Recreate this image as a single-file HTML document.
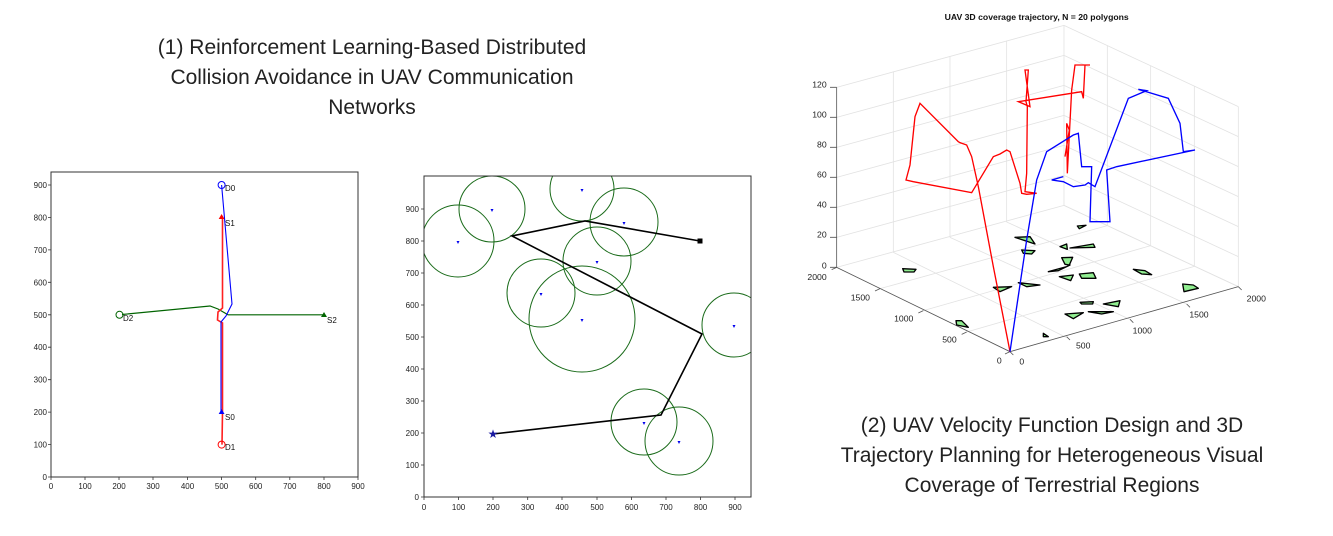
<!DOCTYPE html>
<html><head><meta charset="utf-8"><style>
html,body{margin:0;padding:0;background:#fff;}
svg{display:block;font-family:"Liberation Sans",sans-serif;}
</style></head><body>
<svg width="1333" height="536" viewBox="0 0 1333 536" xmlns="http://www.w3.org/2000/svg">
<rect width="1333" height="536" fill="#fff"/>
<!-- Titles -->
<g font-size="21" fill="#222" text-anchor="middle">
<text x="372" y="54">(1) Reinforcement Learning-Based Distributed</text>
<text x="372" y="84">Collision Avoidance in UAV Communication</text>
<text x="372" y="114">Networks</text>
<text x="1052" y="432">(2) UAV Velocity Function Design and 3D</text>
<text x="1052" y="462">Trajectory Planning for Heterogeneous Visual</text>
<text x="1052" y="492">Coverage of Terrestrial Regions</text>
</g>

<!-- Left plot -->
<g>
<rect x="51" y="172" width="307" height="305" fill="none" stroke="#333" stroke-width="1"/>
<g font-size="8" fill="#222" text-anchor="end">
<text x="47" y="480">0</text><text x="47" y="447.6">100</text><text x="47" y="415">200</text><text x="47" y="382.7">300</text><text x="47" y="350.2">400</text><text x="47" y="318">500</text><text x="47" y="285.5">600</text><text x="47" y="253">700</text><text x="47" y="220.5">800</text><text x="47" y="188">900</text>
</g>
<g font-size="8" fill="#222" text-anchor="middle">
<text x="51" y="489">0</text><text x="85" y="489">100</text><text x="119" y="489">200</text><text x="153" y="489">300</text><text x="187.5" y="489">400</text><text x="221.6" y="489">500</text><text x="255.7" y="489">600</text><text x="289.8" y="489">700</text><text x="324" y="489">800</text><text x="358" y="489">900</text>
</g>
<g stroke="#333" stroke-width="0.8">
<path d="M48 477H51M48 444.6H51M48 412.1H51M48 379.7H51M48 347.2H51M48 314.8H51M48 282.3H51M48 249.9H51M48 217.5H51M48 185H51"/>
<path d="M51 477V480M85 477V480M119 477V480M153 477V480M187.5 477V480M221.6 477V480M255.7 477V480M289.8 477V480M324 477V480M358 477V480"/>
</g>
<polyline points="324,314.8 228,314.8 218,309 210,306 122,314.5" fill="none" stroke="#006400" stroke-width="1.2"/>
<polyline points="222.5,217.5 222.5,308 218,312 217.5,320 222.5,323 222.5,412 222,444.6" fill="none" stroke="#ff2020" stroke-width="1.6"/>
<polyline points="221.6,185 232,304 226,316 221,322 221,412" fill="none" stroke="#0000ff" stroke-width="1.1"/>
<circle cx="221.6" cy="185" r="3.5" fill="none" stroke="#0000ff"/>
<circle cx="221.6" cy="444.6" r="3.5" fill="none" stroke="#ff0000"/>
<circle cx="119.5" cy="314.8" r="3.5" fill="none" stroke="#006400"/>
<path d="M221.6 214L224.5 219H218.7Z" fill="#ff0000"/>
<path d="M221.6 409L224.5 414H218.7Z" fill="#0000ff"/>
<path d="M324 312L327 317H321Z" fill="#006400"/>
<g font-size="8" fill="#111">
<text x="225" y="191">D0</text><text x="225" y="226">S1</text><text x="123" y="321">D2</text><text x="327" y="323">S2</text><text x="225" y="420">S0</text><text x="225" y="450">D1</text>
</g>
</g>

<!-- Middle plot -->
<g>
<defs><clipPath id="c2"><rect x="424" y="176" width="327" height="321"/></clipPath></defs>
<g clip-path="url(#c2)" fill="none" stroke="#1a6b1a" stroke-width="1">
<circle cx="458" cy="241" r="36"/>
<circle cx="492" cy="209" r="33"/>
<circle cx="582" cy="189" r="32"/>
<circle cx="624" cy="222" r="34"/>
<circle cx="597" cy="261" r="34"/>
<circle cx="541" cy="293" r="34"/>
<circle cx="582" cy="319" r="53"/>
<circle cx="734" cy="325" r="32"/>
<circle cx="644" cy="422" r="33"/>
<circle cx="679" cy="441" r="34"/>
</g>
<rect x="424" y="176" width="327" height="321" fill="none" stroke="#333" stroke-width="1"/>
<g fill="#0000ee" font-size="6" text-anchor="middle">
<text x="458" y="244">▾</text><text x="492" y="212">▾</text><text x="582" y="192">▾</text><text x="624" y="225">▾</text><text x="597" y="264">▾</text><text x="541" y="296">▾</text><text x="582" y="322">▾</text><text x="734" y="328">▾</text><text x="644" y="425">▾</text><text x="679" y="444">▾</text>
</g>
<polyline points="493,434 661,415 702,334 512,236 585,221 700,241" fill="none" stroke="#000" stroke-width="1.6"/>
<rect x="697.5" y="238.5" width="5" height="5" fill="#000"/>
<text x="493" y="438" font-size="12" fill="#1a1aa0" text-anchor="middle">★</text>
<g font-size="8" fill="#222" text-anchor="end">
<text x="419" y="500">0</text><text x="419" y="468">100</text><text x="419" y="436">200</text><text x="419" y="404">300</text><text x="419" y="372">400</text><text x="419" y="340">500</text><text x="419" y="308">600</text><text x="419" y="276">700</text><text x="419" y="244">800</text><text x="419" y="212">900</text>
</g>
<g font-size="8" fill="#222" text-anchor="middle">
<text x="424" y="510">0</text><text x="458.6" y="510">100</text><text x="493" y="510">200</text><text x="527.7" y="510">300</text><text x="562" y="510">400</text><text x="597" y="510">500</text><text x="631.5" y="510">600</text><text x="666" y="510">700</text><text x="700.6" y="510">800</text><text x="735" y="510">900</text>
</g>
<g stroke="#333" stroke-width="0.8">
<path d="M421 497H424M421 465H424M421 433H424M421 401H424M421 369H424M421 337H424M421 305H424M421 273H424M421 241H424M421 209H424"/>
<path d="M424 497V500M458.6 497V500M493 497V500M527.7 497V500M562 497V500M597 497V500M631.5 497V500M666 497V500M700.6 497V500M735 497V500"/>
</g>
</g>

<!-- Right 3D plot (zoom coords) -->
<g transform="translate(780,0) scale(0.33333)">
<text x="770" y="60" font-size="26" font-weight="bold" fill="#111" text-anchor="middle">UAV 3D coverage trajectory, N = 20 polygons</text>
<g stroke="#e2e2e2" stroke-width="2.4" fill="none">
<!-- back left wall: from z-axis (170) to back corner (852) -->
<path d="M170 262L852 76M170 352L852 166M170 442L852 256M170 532L852 346M170 622L852 436M170 712L852 526M170 802L852 616"/>
<path d="M340 214V757M510 168V712M680 122V666M852 76V616"/>
<!-- back right wall -->
<path d="M852 76L1375 320M852 166L1375 410M852 256L1375 500M852 346L1375 590M852 436L1375 680M852 526L1375 770M852 616L1375 860"/>
<path d="M982 137V677M1112 197V737M1243 259V799M1375 320V860"/>
<!-- floor -->
<path d="M300 866L982 677M430 932L1112 737M560 996L1243 799M690 1055L1375 860"/>
<path d="M170 802L690 1055"/>
<path d="M1112 737L817 1010M982 677L690 1055" stroke="none"/>
<path d="M852 616L1375 860"/>
<path d="M340 757L860 1013M510 712L1050 958M680 666L1220 912"/>
</g>
<g stroke="#555" stroke-width="2.4" fill="none">
<path d="M170 262V802L690 1055L1375 860"/>
<path d="M150 262H170M150 352H170M150 442H170M150 532H170M150 622H170M150 712H170M150 802H170"/>
<path d="M170 802L155 809M300 866L285 873M430 932L415 939M560 996L545 1003M690 1055L675 1062"/>
<path d="M690 1055L700 1065M860 1010L870 1020M1050 958L1060 968M1220 912L1230 922M1375 860L1385 870"/>
</g>
<g font-size="26" fill="#222">
<g text-anchor="end">
<text x="140" y="262">120</text><text x="140" y="352">100</text><text x="140" y="442">80</text><text x="140" y="532">60</text><text x="140" y="622">40</text><text x="140" y="712">20</text><text x="140" y="805">0</text>
<text x="140" y="840">2000</text><text x="270" y="902">1500</text><text x="400" y="965">1000</text><text x="530" y="1028">500</text><text x="665" y="1090">0</text>
</g>
<text x="718" y="1094">0</text><text x="888" y="1046">500</text><text x="1058" y="1000">1000</text><text x="1228" y="952">1500</text><text x="1400" y="905">2000</text>
</g>
<g fill="#90ee90" stroke="#000" stroke-width="4" stroke-linejoin="round">
<path d="M368 806L408 808L402 816L372 816Z"/>
<path d="M528 962L545 962L565 982L530 975Z"/>
<path d="M640 862L695 860L660 875Z"/>
<path d="M715 848L780 855L740 860Z"/>
<path d="M790 1000L805 1010L790 1010Z"/>
<path d="M705 712L750 710L765 732Z"/>
<path d="M725 750L765 752L755 762L730 760Z"/>
<path d="M892 678L918 676L898 686Z"/>
<path d="M840 740L860 732L862 748Z"/>
<path d="M870 744L940 732L945 742Z"/>
<path d="M845 773L878 772L868 795L855 793Z"/>
<path d="M805 815L860 800L870 795L835 812Z"/>
<path d="M838 830L880 825L872 842Z"/>
<path d="M898 822L940 818L948 835L905 835Z"/>
<path d="M1060 808L1095 812L1115 824L1085 822Z"/>
<path d="M1208 852L1240 855L1255 865L1212 875Z"/>
<path d="M900 907L940 905L938 912L905 912Z"/>
<path d="M970 912L1020 902L1015 920Z"/>
<path d="M855 942L910 938L880 956Z"/>
<path d="M925 935L1000 935L965 942Z"/>
</g>
<polyline fill="none" stroke="#ff0000" stroke-width="4" points="690,1055 640,800 595,560 575,470 560,435 540,428 535,425 420,310 405,350 390,495 378,540 400,545 575,578 640,470 660,462 680,450 690,455 720,550 725,580 740,583 770,580 735,575 740,520 742,320 738,305 745,210 735,210 750,320 715,305 905,275 910,295 915,195 930,195 885,195 875,270 862,520 860,370 868,390 855,470"/>
<polyline fill="none" stroke="#0000ff" stroke-width="4" points="690,1055 740,720 770,540 800,455 880,405 895,400 905,500 935,500 930,665 990,665 980,510 1010,500 1245,450 1210,455 1200,370 1165,295 1075,268 1100,272 1045,295 945,560 925,548 915,555 880,560 850,545 815,540 850,530"/>
</g>
</svg>
</body></html>
